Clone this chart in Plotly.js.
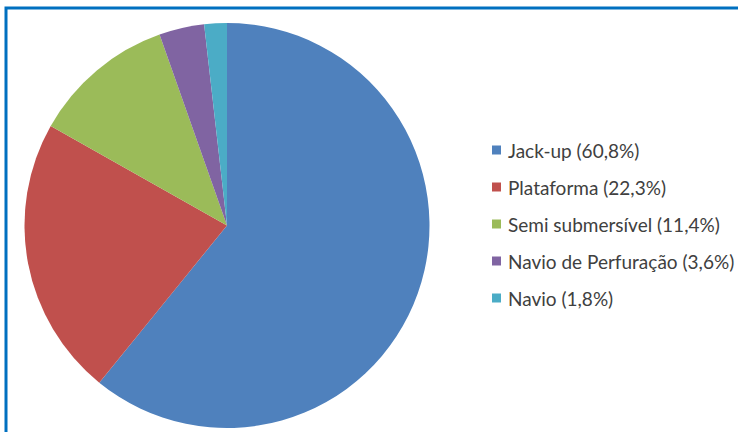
<!DOCTYPE html>
<html><head><meta charset="utf-8">
<script src="https://cdn.plot.ly/plotly-3.0.1.min.js"></script>
<style>html,body{margin:0;padding:0;background:#fff;overflow:hidden}</style>
</head><body>
<div id="chart" style="width:738px;height:432px"></div>
<script>
const labels = ["Jack-up", "Plataforma", "Semi submersível", "Navio de Perfuração", "Navio"];
const values = [60.8, 22.3, 11.4, 3.6, 1.8];
const colors = ["#4F81BD", "#C0504D", "#9BBB59", "#8064A2", "#4BACC6"];

const W = 738, H = 432;
const legendX = 492, legendY0 = 150, legendStep = 37, sq = 9;

const annotations = labels.map((l, i) => ({
  xref: "paper", yref: "paper",
  x: (legendX + 14) / W, y: 1 - (legendY0 + i * legendStep) / H,
  xanchor: "left", yanchor: "middle", showarrow: false,
  text: l + " (" + values[i].toFixed(1).replace(".", ",") + "%)",
  font: {family: "Lato, Liberation Sans, sans-serif", size: 19, color: "#404040"}
}));
const shapes = labels.map((l, i) => ({
  type: "rect", xref: "paper", yref: "paper",
  x0: legendX / W, x1: (legendX + sq) / W,
  y0: 1 - (legendY0 + i * legendStep + sq / 2) / H,
  y1: 1 - (legendY0 + i * legendStep - sq / 2) / H,
  fillcolor: colors[i], line: {width: 0}
}));
shapes.push({
  type: "rect", xref: "paper", yref: "paper",
  x0: 6 / W, x1: 1.2, y0: -0.2, y1: 1 - 8 / H,
  line: {color: "#0070C0", width: 3}, fillcolor: "rgba(0,0,0,0)"
});

Plotly.newPlot("chart", [{
  type: "pie", labels: labels, values: values, sort: false,
  direction: "clockwise", rotation: 0,
  marker: {colors: colors, line: {width: 0}},
  textinfo: "none", hoverinfo: "none",
  domain: {x: [24 / W, 430 / W], y: [4 / H, 409 / H]}
}], {
  width: W, height: H, margin: {l: 0, r: 0, t: 0, b: 0},
  paper_bgcolor: "#fff", showlegend: false,
  annotations: annotations, shapes: shapes
}, {displayModeBar: false, staticPlot: true});
</script>
</body></html>
